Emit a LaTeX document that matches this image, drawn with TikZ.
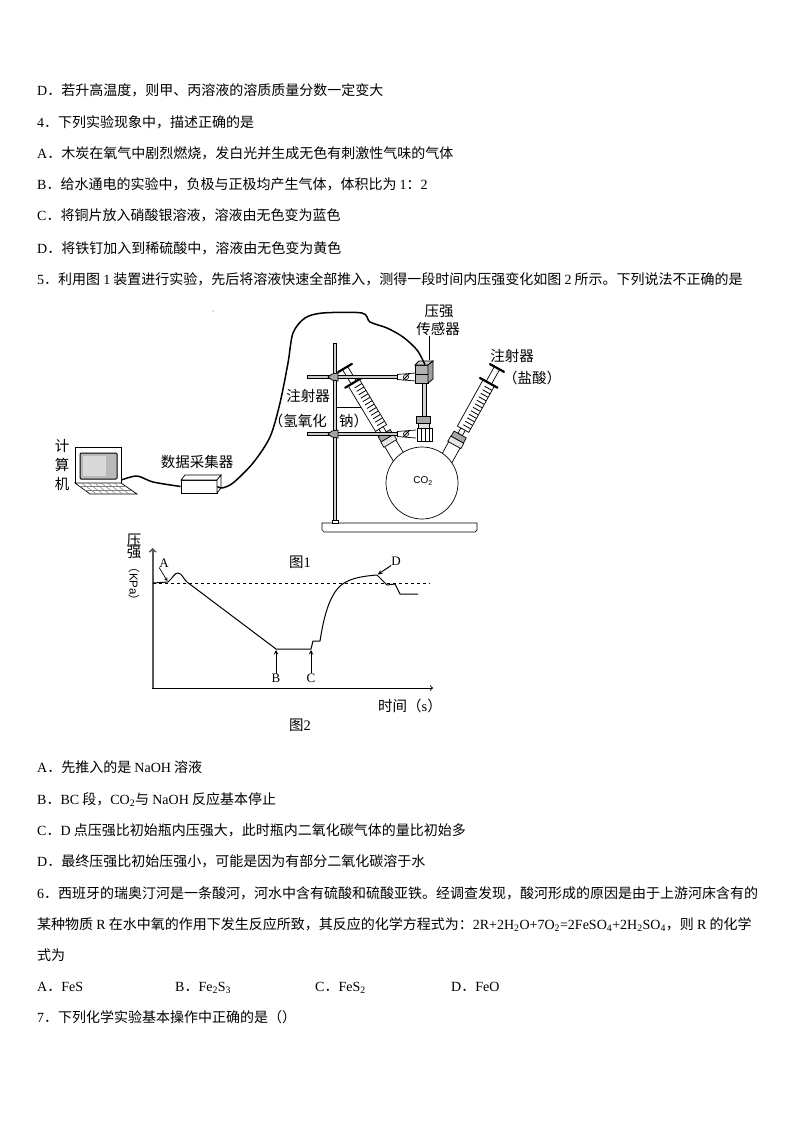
\documentclass[tikz,border=0pt]{standalone}
\usepackage{fontspec}
\setmainfont{Noto Sans CJK SC}
\newfontfamily\latinfont{Liberation Serif}
\newfontfamily\sansfont{Liberation Sans}
\newcommand{\lat}[1]{{\latinfont #1}}
\newcommand{\sub}[1]{\textsubscript{#1}}
\tikzstyle{txt}=[anchor=base west,inner sep=0pt,font=\fontsize{14}{14}\selectfont]
\tikzstyle{lab}=[inner sep=0pt,font=\fontsize{14.5}{15}\selectfont]
\tikzstyle{pt}=[inner sep=0pt,font=\fontsize{13}{13}\latinfont]
\tikzstyle{cable}=[line width=1.5pt,line join=round]
\tikzstyle{curve}=[line width=1pt,line join=round]
\tikzstyle{arr}=[->,>=stealth,line width=1pt,shorten >=1pt]
\tikzstyle{axis}=[->,>=to,line width=1pt]
\tikzstyle{glass}=[draw,line width=.7pt,fill=white]
\tikzstyle{flange}=[line width=2.2pt,line cap=round]

% syringe seen along its own x direction: plunger end, barrel, stopper, neck
\newcommand{\syringe}[2]{
  \begin{scope}[shift={#1},rotate=#2]
    \draw[glass] (84,-6.5) rectangle (108,6.5);
    \draw[glass] (0,-3) rectangle (17,3);
    \draw[flange] (0,-8) -- (0,8);
    \draw[glass] (17,-6.5) rectangle (70,6.5);
    \foreach \u in {22,26,...,66} {\draw[line width=.8pt] (\u,-6.5) -- (\u,2);}
    \draw[flange] (17,-10) -- (17,10);
    \draw[glass] (70,-2.5) rectangle (76,2.5);
    \draw[glass,fill=gray!70] (76,-7) rectangle (82,7);
    \draw[glass,fill=gray!20] (82,-7.5) rectangle (88,7.5);
  \end{scope}
}
% clamp on the rod, its fork holding the neck at the right
\newcommand{\clamp}[1]{
  \draw[glass,fill=gray!40] (307,#1-1.7) rectangle (397,#1+1.7);
  \draw[glass,fill=gray!70] (328,#1) -- (332,#1-3) -- (338,#1-4) -- (338,#1+4) -- (332,#1+3) -- cycle;
  \draw[glass] (397,#1-2.5) -- (416,#1-4) (397,#1+2.5) -- (416,#1+4);
  \draw[glass] (406,#1) circle (2.5);
  \draw[line width=.8pt] (403,#1+3) -- (409,#1-3);
}

\begin{document}
\begin{tikzpicture}[x=1pt,y=-1pt]
  \useasboundingbox (0,0) rectangle (794,1123);
  \fill[white] (0,0) rectangle (794,1123);

  % text above the figures
  \node[txt] (l1) at (37,96) {\lat{D}．若升高温度，则甲、丙溶液的溶质质量分数一定变大};
  \node[txt] (l2) at (37,128) {\lat{4}．下列实验现象中，描述正确的是};
  \node[txt] (l3) at (37,159) {\lat{A}．木炭在氧气中剧烈燃烧，发白光并生成无色有刺激性气味的气体};
  \node[txt] (l4) at (37,190) {\lat{B}．给水通电的实验中，负极与正极均产生气体，体积比为 \lat{1}：\lat{2}};
  \node[txt] (l5) at (37,221) {\lat{C}．将铜片放入硝酸银溶液，溶液由无色变为蓝色};
  \node[txt] (l6) at (37,253) {\lat{D}．将铁钉加入到稀硫酸中，溶液由无色变为黄色};
  \node[txt] (l7) at (37,284) {\lat{5}．利用图 \lat{1} 装置进行实验，先后将溶液快速全部推入，测得一段时间内压强变化如图 \lat{2} 所示。下列说法不正确的是};

  % figure 1
  \fill (213,311) circle (.5);
  \draw[glass] (322,523) -- (477,523) -- (477,530) -- (475,532) -- (324,532) -- (322,530) -- cycle;
  \draw[glass] (332,520) rectangle (338,523);
  \draw[glass,fill=gray!35] (333.5,343) rectangle (336.5,520);
  \draw[line width=.6pt] (337,407) -- (367,407);
  \syringe{(345,368)}{-59}
  \syringe{(497,368)}{-119}
  \node[glass,shape=circle,minimum size=72pt,inner sep=0pt] (flask) at (422,483) {};
  \node[inner sep=0pt,font=\fontsize{10}{10}\sansfont] (co2) at (423,481) {CO\sub{2}};
  \draw[glass] (417,428) rectangle (432,441);
  \draw[line width=.6pt] (421,428) -- (421,441) (425,428) -- (425,441) (429,428) -- (429,441);
  \draw[glass,fill=gray!35] (422,383) rectangle (426,416);
  \draw[glass,fill=gray!70] (416,416) rectangle (430,423);
  \draw[glass,fill=gray!25] (418,423) rectangle (429,428);
  \clamp{377}
  \clamp{434}

  \node[draw,fill=gray!60,line width=.8pt,minimum width=13pt,minimum height=18pt,inner sep=0pt] (sensor) at (421.5,374) {};
  \fill[gray!40,draw=black,line width=.8pt] (415,365) -- (419,361) -- (433,361) -- (428,365) -- cycle;
  \fill[gray!75,draw=black,line width=.8pt] (428,365) -- (433,361) -- (433,379) -- (428,383) -- cycle;
  \draw[line width=.8pt] (415,374) -- (428,374);
  \node[lab] (p1) at (439,311) {压强};
  \node[lab] (p2) at (438,329) {传感器};
  \draw[line width=.6pt] (p2.south -| 429,0) -- (429,360);

  \node[lab] (s1) at (512,356) {注射器};
  \node[lab] (s2) at (532,378) {（盐酸）};
  \node[lab] (s3) at (308,396) {注射器};
  \node[lab,anchor=east] (s4) at (327,421) {（氢氧化};
  \node[lab,anchor=west] (s5) at (339,421) {钠）};

  \node[draw,fill=white,line width=.8pt,minimum width=46pt,minimum height=36pt,inner sep=0pt] (laptop) at (98,465) {};
  \draw[fill=gray!55,line width=1pt,rounded corners=1pt] (80,453) rectangle (117,479);
  \fill[gray!30] (83,456) rectangle (106,476);
  \draw[glass] (75,483) -- (121,483) -- (137,494) -- (90,494) -- cycle;
  \foreach \k in {1,...,6} {\draw[line width=.5pt,gray] (75+\k*6.5,483) -- (90+\k*6.5,494);}
  \draw[line width=.5pt,gray] (80,486.5) -- (126,486.5) (85,490) -- (131,490);
  \node[lab] (c1) at (62,446) {计};
  \node[lab] (c2) at (62,465) {算};
  \node[lab] (c3) at (62,484) {机};

  \node[draw,fill=white,line width=.8pt,minimum width=36pt,minimum height=13pt,inner sep=0pt] (collector) at (199,486.5) {};
  \draw[glass] (181,480) -- (185,475) -- (221,475) -- (217,480) -- cycle;
  \draw[glass] (217,480) -- (221,475) -- (221,488) -- (217,493) -- cycle;
  \node[lab] (collab) at (197,462) {数据采集器};

  \draw[cable] plot[smooth] coordinates {(laptop.east |- 0,480) (137,476) (153,482) (collector.west)};
  \draw[cable] plot[smooth] coordinates {(collector.east) (222,488) (233,483) (253,463) (270,437) (280,403) (288,363) (293,333) (305,318) (323,313) (362,313) (370,322) (387,328) (403,337) (417,350) (sensor.north -| 425,0)};

  % figure 2
  \node[lab] (f1) at (300,562) {图\lat{1}};
  \draw[->,>=to,line width=1.8pt,gray!70!black] (152.7,688) -- (152.7,548);
  \draw[axis] (152,688) -- (433,688);
  \draw[dashed,line width=.7pt] (153,583) -- (430,583);
  \coordinate (ptA) at (168,582);
  \coordinate (ptB) at (276,649);
  \coordinate (ptC) at (311,649);
  \coordinate (ptD) at (377,575);
  \draw[curve] (153,583) -- (ptA) .. controls (173,578) and (174,573) .. (178,573) .. controls (182,573) and (184,580) .. (187,582)
     -- (ptB) -- (ptC) -- (313,641) -- (320,641) .. controls (323,622) and (327,604) .. (335,592) .. controls (341,583) and (350,577) .. (ptD)
     -- (387,585) -- (395,584) -- (400,594) -- (418,594);
  \node[pt] (A) at (164,563) {A};
  \node[pt] (B) at (276,678) {B};
  \node[pt] (C) at (311,678) {C};
  \node[pt] (D) at (396,561) {D};
  \draw[arr,line width=.7pt] (A.south west) -- (ptA);
  \draw[arr] (B.north) -- (ptB);
  \draw[arr] (C.north) -- (ptC);
  \draw[arr] (D.south west) -- (ptD);
  \node[lab] (y1) at (134,540) {压};
  \node[lab] (y2) at (134,552) {强};
  \node[inner sep=0pt,rotate=-90,font=\fontsize{11.5}{12}\selectfont] (y3) at (134,584) {（\sansfont KPa\rmfamily）};
  \node[lab] (tlab) at (410,706) {时间（\lat{s}）};
  \node[lab] (f2) at (300,725) {图\lat{2}};

  % text below the figures
  \node[txt] (m1) at (37,772) {\lat{A}．先推入的是 \lat{NaOH} 溶液};
  \node[txt] (m2) at (37,804) {\lat{B}．\lat{BC} 段，\lat{CO\sub{2}}与 \lat{NaOH} 反应基本停止};
  \node[txt] (m3) at (37,835) {\lat{C}．\lat{D} 点压强比初始瓶内压强大，此时瓶内二氧化碳气体的量比初始多};
  \node[txt] (m4) at (37,866) {\lat{D}．最终压强比初始压强小，可能是因为有部分二氧化碳溶于水};
  \node[txt] (m5) at (37,898) {\lat{6}．西班牙的瑞奥汀河是一条酸河，河水中含有硫酸和硫酸亚铁。经调查发现，酸河形成的原因是由于上游河床含有的};
  \node[txt] (m6) at (37,929) {某种物质 \lat{R} 在水中氧的作用下发生反应所致，其反应的化学方程式为：\lat{2R+2H\sub{2}O+7O\sub{2}=2FeSO\sub{4}+2H\sub{2}SO\sub{4}}，则 \lat{R} 的化学};
  \node[txt] (m7) at (37,960) {式为};
  \node[txt] (a1) at (37,991) {\lat{A}．\lat{FeS}};
  \node[txt] (a2) at (175,991) {\lat{B}．\lat{Fe\sub{2}S\sub{3}}};
  \node[txt] (a3) at (315,991) {\lat{C}．\lat{FeS\sub{2}}};
  \node[txt] (a4) at (451,991) {\lat{D}．\lat{FeO}};
  \node[txt] (m8) at (37,1022) {\lat{7}．下列化学实验基本操作中正确的是（）};
\end{tikzpicture}
\end{document}
